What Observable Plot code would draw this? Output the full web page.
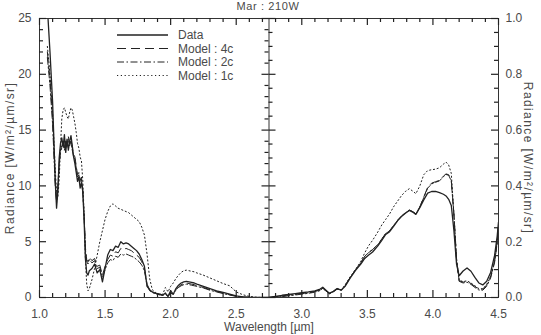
<!DOCTYPE html>
<html>
<head>
<meta charset="utf-8">
<script src="https://cdn.jsdelivr.net/npm/d3@7"></script>
<script src="https://cdn.jsdelivr.net/npm/@observablehq/plot@0.6"></script>
<style>
  body { margin: 0; background: #fff; }
  #chart { position: relative; width: 541px; height: 335px; font-family: "Liberation Sans", Arial, sans-serif; color: #4a4a4a; }
  #title { position: absolute; left: 0; top: 0; width: 536px; height: 13px; line-height: 13px; text-align: center; font-size: 11px; letter-spacing: 0.6px; }
  #frame, #curves { position: absolute; left: 0; top: 14px; }
  #legend { position: absolute; left: 112px; top: 28px; }
</style>
</head>
<body>
<div id="chart">
  <div id="title">Mar : 210W</div>
  <div id="frame"></div>
  <div id="curves"></div>
  <div id="legend"></div>
</div>
<script>
// Short-wavelength panel (1.0–2.75 µm), radiance in W/m²/µm/sr on the left axis
const waveShort = [
  1.04, 1.06, 1.08, 1.10, 1.12, 1.13, 1.14, 1.15, 1.16, 1.17,
  1.18, 1.19, 1.20, 1.21, 1.22, 1.23, 1.24, 1.25, 1.26, 1.27,
  1.28, 1.29, 1.30, 1.31, 1.32, 1.33, 1.34, 1.35, 1.36, 1.37,
  1.38, 1.40, 1.42, 1.44, 1.46, 1.48, 1.50, 1.52, 1.54, 1.56,
  1.58, 1.60, 1.62, 1.64, 1.66, 1.68, 1.70, 1.72, 1.74, 1.76,
  1.78, 1.80, 1.82, 1.84, 1.86, 1.88, 1.90, 1.92, 1.94, 1.96,
  1.98, 2.00, 2.02, 2.04, 2.06, 2.08, 2.10, 2.12, 2.14, 2.16,
  2.18, 2.20, 2.25, 2.30, 2.35, 2.40, 2.45, 2.50, 2.55, 2.60,
  2.65, 2.70, 2.75
];
const dataShort = [
  30.0, 26.0, 22.0, 17.5, 10.5, 8.0, 9.5, 12.5, 13.8, 14.3,
  13.5, 14.6, 13.0, 14.2, 13.2, 14.0, 14.5, 13.6, 12.6, 12.0,
  11.2, 10.4, 10.8, 9.8, 10.3, 9.5, 7.0, 3.5, 2.2, 2.0,
  2.4, 2.6, 3.0, 2.2, 2.5, 1.4, 2.6, 3.8, 4.3, 4.2,
  4.6, 4.5, 5.0, 4.8, 4.9, 4.8, 4.6, 4.4, 4.2, 3.9,
  3.4, 2.8, 1.0, 0.7, 0.5, 0.4, 0.35, 0.3, 0.2, 0.4,
  0.1, 0.6, 0.3, 0.8, 1.1, 1.3, 1.4, 1.45, 1.4, 1.35,
  1.3, 1.2, 1.0, 0.8, 0.6, 0.45, 0.3, 0.15, 0.05, 0.02,
  0.0, 0.0, 0.0
];
const model4cShort = [
  null, 22.0, 19.5, 16.0, 10.5, 8.8, 10.0, 12.0, 13.2, 13.6,
  14.0, 13.4, 14.2, 13.6, 14.4, 13.8, 14.2, 13.4, 12.8, 12.6,
  11.8, 11.0, 11.2, 10.5, 10.8, 9.6, 7.5, 4.5, 3.4, 3.2,
  3.6, 3.3, 3.5, 2.8, 2.9, 2.0, 2.8, 3.4, 3.8, 3.7,
  4.1, 4.0, 4.4, 4.3, 4.4, 4.3, 4.2, 4.0, 3.8, 3.6,
  3.2, 2.6, 1.2, 0.7, 0.5, 0.4, 0.3, 0.25, 0.2, 0.3,
  0.1, 0.4, 0.3, 0.7, 0.95, 1.15, 1.25, 1.3, 1.25, 1.2,
  1.15, 1.05, 0.9, 0.7, 0.55, 0.4, 0.25, 0.12, 0.04, 0.01,
  0.0, 0.0, 0.0
];
const model2cShort = [
  null, 21.5, 19.0, 15.5, 10.0, 8.5, 9.8, 11.8, 13.0, 13.4,
  13.8, 13.2, 14.0, 13.4, 14.2, 13.6, 14.0, 13.2, 12.6, 12.4,
  11.6, 10.8, 11.0, 10.3, 10.6, 9.4, 7.3, 4.3, 3.2, 3.0,
  3.4, 3.1, 3.3, 2.6, 2.7, 1.8, 2.5, 3.1, 3.4, 3.3,
  3.7, 3.6, 3.9, 3.8, 3.9, 3.8, 3.7, 3.6, 3.4, 3.2,
  2.9, 2.4, 1.1, 0.6, 0.45, 0.35, 0.3, 0.25, 0.2, 0.3,
  0.1, 0.4, 0.3, 0.65, 0.9, 1.05, 1.15, 1.2, 1.15, 1.1,
  1.05, 1.0, 0.85, 0.65, 0.5, 0.35, 0.22, 0.1, 0.03, 0.01,
  0.0, 0.0, 0.0
];
const model1cShort = [
  null, 22.5, 20.0, 16.5, 11.5, 9.5, 9.0, 10.5, 13.5, 16.0,
  16.8, 17.0, 16.6, 16.2, 16.0, 16.6, 17.0, 16.8, 16.2, 15.6,
  14.8, 13.8, 13.4, 12.6, 12.2, 10.5, 7.5, 3.5, 1.2, 0.6,
  0.8, 1.6, 2.6, 3.8, 5.0, 6.0, 7.0, 7.7, 8.2, 8.4,
  8.2, 8.0, 7.9, 7.8, 7.7, 7.6, 7.4, 7.2, 7.0, 6.8,
  6.3, 5.6, 3.9, 1.7, 0.7, 0.5, 0.3, 0.2, 0.3, 0.9,
  0.5, 1.0, 1.3, 1.7, 2.0, 2.25, 2.4, 2.45, 2.4, 2.35,
  2.3, 2.2, 2.0, 1.75, 1.5, 1.25, 1.05, 0.5, 0.25, 0.1,
  0.03, 0.0, 0.0
];

// Long-wavelength panel (2.75–4.5 µm), radiance in W/m²/µm/sr on the right axis
const waveLong = [
  2.75, 2.80, 2.85, 2.90, 2.95, 3.00, 3.05, 3.10, 3.14, 3.16,
  3.18, 3.21, 3.24, 3.27, 3.30, 3.33, 3.37, 3.41, 3.45, 3.48,
  3.51, 3.54, 3.58, 3.61, 3.64, 3.67, 3.70, 3.73, 3.76, 3.79,
  3.82, 3.85, 3.87, 3.90, 3.93, 3.96, 3.99, 4.02, 4.05, 4.08,
  4.10, 4.12, 4.14, 4.16, 4.18, 4.20, 4.23, 4.26, 4.29, 4.32,
  4.35, 4.38, 4.41, 4.44, 4.47, 4.49, 4.50
];
const dataLong = [
  0.000, 0.004, 0.008, 0.011, 0.014, 0.017, 0.020, 0.024, 0.030, 0.037,
  0.028, 0.015, 0.022, 0.032, 0.026, 0.040, 0.070, 0.097, 0.120, 0.140,
  0.152, 0.163, 0.185, 0.205, 0.226, 0.236, 0.255, 0.275, 0.290, 0.302,
  0.312, 0.305, 0.298, 0.322, 0.350, 0.374, 0.380, 0.380, 0.376, 0.370,
  0.364, 0.352, 0.330, 0.240, 0.120, 0.078, 0.095, 0.106, 0.094, 0.072,
  0.052, 0.045, 0.058, 0.090, 0.150, 0.220, 0.270
];
const model4cLong = [
  0.000, 0.003, 0.006, 0.009, 0.012, 0.015, 0.018, 0.022, 0.028, 0.035,
  0.027, 0.015, 0.022, 0.032, 0.027, 0.042, 0.073, 0.100, 0.125, 0.148,
  0.162, 0.172, 0.190, 0.210, 0.230, 0.240, 0.258, 0.277, 0.292, 0.304,
  0.314, 0.307, 0.300, 0.325, 0.360, 0.395, 0.410, 0.415, 0.420, 0.435,
  0.443, 0.440, 0.420, 0.300, 0.140, 0.060, 0.055, 0.058, 0.050, 0.040,
  0.030, 0.030, 0.045, 0.075, 0.130, 0.200, 0.260
];
const model2cLong = [
  0.000, 0.001, 0.003, 0.006, 0.009, 0.012, 0.015, 0.019, 0.025, 0.033,
  0.025, 0.013, 0.020, 0.030, 0.026, 0.041, 0.072, 0.099, 0.124, 0.147,
  0.161, 0.171, 0.189, 0.209, 0.229, 0.239, 0.257, 0.276, 0.291, 0.303,
  0.313, 0.306, 0.299, 0.324, 0.358, 0.392, 0.407, 0.413, 0.418, 0.433,
  0.441, 0.438, 0.418, 0.295, 0.135, 0.058, 0.052, 0.055, 0.047, 0.036,
  0.027, 0.026, 0.040, 0.070, 0.125, 0.195, 0.255
];
const model1cLong = [
  0.000, 0.002, 0.005, 0.008, 0.011, 0.014, 0.017, 0.020, 0.026, 0.033,
  0.025, 0.014, 0.021, 0.030, 0.028, 0.045, 0.075, 0.100, 0.130, 0.160,
  0.186, 0.205, 0.235, 0.260, 0.280, 0.300, 0.325, 0.345, 0.365, 0.380,
  0.390, 0.380, 0.372, 0.400, 0.440, 0.455, 0.458, 0.460, 0.465, 0.478,
  0.485, 0.475, 0.445, 0.300, 0.140, 0.062, 0.057, 0.060, 0.052, 0.042,
  0.032, 0.031, 0.046, 0.076, 0.132, 0.202, 0.262
];

// Axis ticks and texts
const xMajor = [1.0, 1.5, 2.0, 2.5, 3.0, 3.5, 4.0, 4.5];
const leftMajor = [0, 5, 10, 15, 20, 25];
const rightMajor = [0.0, 0.2, 0.4, 0.6, 0.8, 1.0];
const seriesNames = ["Data", "Model : 4c", "Model : 2c", "Model : 1c"];
const axisTitle = "Radiance [W/m\u00b2/\u00b5m/sr]";
const xTitle = "Wavelength [\u00b5m]";

const split = 2.75;        // boundary between the two panels (µm)
const rightToLeft = 25;    // 1.0 on the right axis sits level with 25 on the left axis

const xMinor = d3.range(10, 46).map(d => d / 10).filter(d => !xMajor.some(m => Math.abs(m - d) < 1e-9));
const leftMinor = d3.range(0, 26).filter(d => d % 5 !== 0);
const rightMinor = d3.range(0, 21).map(d => d / 20).filter(d => Math.round(d * 20) % 4 !== 0);
const toLeft = v => v * rightToLeft;

const styles = [
  {dash: null, width: 1.3},
  {dash: "9,5", width: 1},
  {dash: "7,2.5,1.5,2.5", width: 1},
  {dash: "1.2,2.6", width: 1}
];
const shortSeries = [dataShort, model4cShort, model2cShort, model1cShort];
const longSeries = [dataLong, model4cLong, model2cLong, model1cLong];

function rowsFor(k) {
  const a = waveShort.map((w, i) => ({wave: w, value: shortSeries[k][i] == null ? NaN : shortSeries[k][i], panel: "short"}));
  const b = waveLong.map((w, i) => ({wave: w, value: toLeft(longSeries[k][i]), panel: "long"}));
  return a.concat(b);
}

// Layout of the plotting frame (shared by both layers)
const W = 541, H = 321;
const M = {top: 4, right: 43, bottom: 38, left: 39};
const frameW = W - M.left - M.right;
const frameH = H - M.top - M.bottom;
const xPix = d3.scaleLinear([1, 4.5], [0, frameW]);
const splitPix = xPix(split);
const ink = "#222";
const tickWidth = 1.2;
const MAJOR = 7, MINOR = 4;
const font = {fontFamily: "'Liberation Sans', Arial, sans-serif", fontSize: "12px", color: "#4a4a4a", overflow: "visible"};
const layout = {width: W, height: H, marginTop: M.top, marginBottom: M.bottom, marginLeft: M.left, marginRight: M.right};

// Inward ticks along the four frame edges and both sides of the panel divider
const tickStyle = {stroke: ink, strokeWidth: tickWidth};
const bottomTicks = (vals, len) => Plot.tickX(vals, {x: d => d, insetTop: frameH - len, ...tickStyle});
const topTicks = (vals, len) => Plot.tickX(vals, {x: d => d, insetBottom: frameH - len, ...tickStyle});
const leftEdgeTicks = (vals, len) => Plot.tickY(vals, {y: d => d, insetRight: frameW - len, ...tickStyle});
const rightEdgeTicks = (vals, len) => Plot.tickY(vals, {y: d => d, insetLeft: frameW - len, ...tickStyle});
const splitLeftTicks = (vals, len) => Plot.tickY(vals, {y: d => d, insetLeft: splitPix - len, insetRight: frameW - splitPix, ...tickStyle});
const splitRightTicks = (vals, len) => Plot.tickY(vals, {y: d => d, insetLeft: splitPix, insetRight: frameW - splitPix - len, ...tickStyle});

// Layer 1: spectra, on a white background
const curveLayer = Plot.plot({
  ...layout,
  x: {domain: [1, 4.5], axis: null},
  y: {domain: [0, 25], axis: null},
  style: {...font, background: "white"},
  marks: styles.map((s, k) => Plot.line(rowsFor(k), {
    x: "wave", y: "value", z: "panel",
    stroke: "#222", strokeWidth: s.width, strokeDasharray: s.dash ?? undefined, clip: true
  }))
});
document.getElementById("curves").append(curveLayer);

// Layer 2 (on top): frame, divider, ticks, tick labels and axis titles
const frameLayer = Plot.plot({
  ...layout,
  x: {domain: [1, 4.5]},
  y: {domain: [0, 25]},
  style: {...font, background: "transparent"},
  marks: [
    Plot.frame({stroke: "#333"}),
    Plot.ruleX([split], {stroke: "#333"}),
    bottomTicks(xMajor, MAJOR), bottomTicks(xMinor, MINOR),
    topTicks(xMajor, MAJOR), topTicks(xMinor, MINOR),
    leftEdgeTicks(leftMajor, MAJOR), leftEdgeTicks(leftMinor, MINOR),
    splitLeftTicks(leftMajor, MAJOR), splitLeftTicks(leftMinor, MINOR),
    splitRightTicks(rightMajor.map(toLeft), MAJOR), splitRightTicks(rightMinor.map(toLeft), MINOR),
    rightEdgeTicks(rightMajor.map(toLeft), MAJOR), rightEdgeTicks(rightMinor.map(toLeft), MINOR),
    Plot.axisX({ticks: xMajor, tickFormat: d3.format(".1f"), tickSize: 0, tickPadding: 12, label: null}),
    Plot.axisY({anchor: "left", ticks: leftMajor, tickFormat: d3.format("d"), tickSize: 0, tickPadding: 8, label: null}),
    Plot.axisY({anchor: "right", ticks: rightMajor.map(toLeft), tickFormat: d => d3.format(".1f")(d / rightToLeft), tickSize: 0, tickPadding: 7, label: null}),
    Plot.text([xTitle], {text: d => d, frameAnchor: "bottom", lineAnchor: "middle", textAnchor: "middle", dy: 30}),
    Plot.text([axisTitle], {text: d => d, frameAnchor: "left", textAnchor: "middle", lineAnchor: "middle", rotate: -90, dx: -29}),
    Plot.text([axisTitle], {text: d => d, frameAnchor: "right", textAnchor: "middle", lineAnchor: "middle", rotate: 90, dx: 29})
  ]
});
document.getElementById("frame").append(frameLayer);
// keep the frame layer above the curves
document.getElementById("frame").style.zIndex = 2;

// Wider letter spacing for the two radiance titles
d3.select(frameLayer).selectAll("text").filter(function () { return this.textContent === axisTitle; })
  .style("letter-spacing", "1.4px");

// Legend
const lg = d3.select("#legend").append("svg").attr("width", 130).attr("height", 56)
  .style("font-family", "'Liberation Sans', Arial, sans-serif").style("font-size", "12px");
const row = lg.selectAll("g").data(seriesNames).join("g")
  .attr("transform", (d, i) => `translate(0,${7 + i * 13.5})`);
row.append("line").attr("x1", 5).attr("x2", 56).attr("y1", 0).attr("y2", 0)
  .attr("stroke", "#222").attr("stroke-width", (d, i) => styles[i].width)
  .attr("stroke-dasharray", (d, i) => styles[i].dash);
row.append("text").attr("x", 66).attr("dy", "0.35em").attr("fill", "#4a4a4a").text(d => d);
</script>
</body>
</html>
